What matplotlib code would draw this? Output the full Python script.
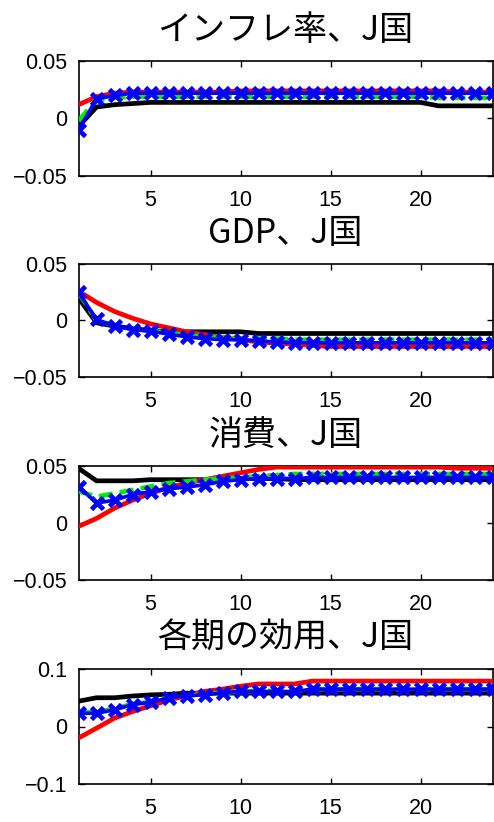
import matplotlib
matplotlib.use("Agg")
import matplotlib.pyplot as plt
import numpy as np

periods = list(range(1, 25))

titles = ["インフレ率、J国", "GDP、J国", "消費、J国", "各期の効用、J国"]

# inflation
infl_black = [-0.007, 0.010, 0.012, 0.013, 0.014, 0.014, 0.014, 0.014, 0.014, 0.014, 0.014, 0.014,
              0.014, 0.014, 0.014, 0.014, 0.014, 0.014, 0.014, 0.014, 0.011, 0.011, 0.011, 0.011]
infl_red = [0.012, 0.019, 0.022, 0.023, 0.023, 0.023, 0.023, 0.023, 0.023, 0.024, 0.024, 0.024,
            0.024, 0.024, 0.024, 0.024, 0.024, 0.024, 0.024, 0.024, 0.024, 0.023, 0.023, 0.023]
infl_green = [-0.002, 0.016, 0.018, 0.019, 0.019, 0.019, 0.019, 0.019, 0.019, 0.019, 0.019, 0.019,
              0.019, 0.019, 0.019, 0.019, 0.019, 0.019, 0.019, 0.019, 0.018, 0.018, 0.018, 0.018]
infl_blue = [-0.010, 0.017, 0.020, 0.022, 0.022, 0.022, 0.022, 0.022, 0.022, 0.022, 0.022, 0.022,
             0.022, 0.022, 0.022, 0.022, 0.022, 0.022, 0.022, 0.022, 0.022, 0.022, 0.022, 0.022]

# GDP
gdp_black = [0.020, -0.002, -0.005, -0.007, -0.009, -0.010, -0.010, -0.010, -0.010, -0.010, -0.0115, -0.0115,
             -0.0115, -0.0115, -0.0115, -0.0115, -0.0115, -0.0115, -0.0115, -0.0115, -0.0115, -0.0115, -0.0115, -0.0115]
gdp_red = [0.026, 0.016, 0.008, 0.002, -0.003, -0.0065, -0.010, -0.0125, -0.015, -0.017, -0.019, -0.020,
           -0.021, -0.022, -0.023, -0.023, -0.023, -0.023, -0.023, -0.023, -0.023, -0.023, -0.023, -0.023]
gdp_green = [0.025, 0.000, -0.004, -0.007, -0.009, -0.011, -0.013, -0.014, -0.015, -0.016, -0.016, -0.016,
             -0.017, -0.017, -0.017, -0.017, -0.017, -0.017, -0.017, -0.017, -0.017, -0.017, -0.017, -0.017]
gdp_blue = [0.025, 0.001, -0.005, -0.008, -0.0095, -0.012, -0.0145, -0.016, -0.017, -0.017, -0.018, -0.019,
            -0.0195, -0.0197, -0.0197, -0.0197, -0.0197, -0.0197, -0.0197, -0.0197, -0.0197, -0.0197, -0.0197, -0.0197]

# consumption
cons_black = [0.048, 0.037, 0.037, 0.037, 0.038, 0.038, 0.038, 0.038, 0.039, 0.039, 0.039, 0.039,
              0.038, 0.038, 0.038, 0.038, 0.038, 0.038, 0.038, 0.038, 0.038, 0.038, 0.038, 0.038]
cons_red = [-0.003, 0.004, 0.013, 0.020, 0.026, 0.031, 0.035, 0.038, 0.041, 0.044, 0.047, 0.049,
            0.049, 0.049, 0.049, 0.049, 0.049, 0.049, 0.049, 0.049, 0.049, 0.048, 0.048, 0.048]
cons_green = [0.028, 0.023, 0.026, 0.029, 0.032, 0.035, 0.0365, 0.038, 0.039, 0.040, 0.041, 0.042,
              0.043, 0.043, 0.043, 0.043, 0.043, 0.043, 0.043, 0.043, 0.043, 0.043, 0.043, 0.043]
cons_blue = [0.032, 0.0175, 0.020, 0.025, 0.0275, 0.030, 0.0315, 0.0335, 0.0365, 0.038, 0.039, 0.039,
             0.039, 0.040, 0.040, 0.040, 0.040, 0.040, 0.040, 0.040, 0.040, 0.040, 0.040, 0.040]

# utility
util_black = [0.044, 0.050, 0.050, 0.053, 0.055, 0.056, 0.058, 0.058, 0.058, 0.058, 0.058, 0.058,
              0.058, 0.058, 0.058, 0.058, 0.058, 0.058, 0.058, 0.058, 0.058, 0.058, 0.058, 0.058]
util_red = [-0.020, -0.003, 0.0145, 0.026, 0.036, 0.046, 0.0535, 0.061, 0.065, 0.070, 0.074, 0.074,
            0.074, 0.079, 0.079, 0.079, 0.079, 0.079, 0.079, 0.079, 0.079, 0.079, 0.079, 0.079]
util_green = [0.024, 0.025, 0.031, 0.039, 0.043, 0.050, 0.054, 0.056, 0.059, 0.061, 0.062, 0.062,
              0.062, 0.065, 0.065, 0.065, 0.065, 0.065, 0.065, 0.065, 0.065, 0.065, 0.065, 0.065]
util_blue = [0.023, 0.023, 0.029, 0.038, 0.042, 0.0497, 0.0535, 0.055, 0.0587, 0.061, 0.061, 0.061,
             0.061, 0.065, 0.065, 0.065, 0.065, 0.065, 0.065, 0.065, 0.065, 0.065, 0.065, 0.065]

panels = [
    (infl_black, infl_red, infl_green, infl_blue),
    (gdp_black, gdp_red, gdp_green, gdp_blue),
    (cons_black, cons_red, cons_green, cons_blue),
    (util_black, util_red, util_green, util_blue),
]
ylims = [(-0.05, 0.05), (-0.05, 0.05), (-0.05, 0.05), (-0.1, 0.1)]
yticks = [[-0.05, 0, 0.05], [-0.05, 0, 0.05], [-0.05, 0, 0.05], [-0.1, 0, 0.1]]
ytick_labels = [["\u22120.05", "0", "0.05"]] * 3 + [["\u22120.1", "0", "0.1"]]

# axes boxes in pixels: (top, bottom)
boxes = [(61, 176), (264, 377), (466, 580), (669, 784)]

W, H = 494, 822
fig = plt.figure(figsize=(W / 100, H / 100), dpi=100)
left, right = 78.5, 492.5

for i, (blk, red, grn, blu) in enumerate(panels):
    top, bot = boxes[i]
    ax = fig.add_axes([left / W, 1 - bot / H, (right - left) / W, (bot - top) / H])
    ax.plot(periods, blk, color="black", lw=3.4, zorder=2)
    ax.plot(periods, red, color="red", lw=3.4, zorder=3)
    ax.plot(periods, grn, color="#00ee00", lw=3.4, ls=(0, (3, 1.5)), zorder=4)
    ax.plot(periods, blu, color="blue", lw=2.6, marker="x", ms=8, mew=3.4, zorder=5)
    ax.set_xlim(1, 24)
    ax.set_ylim(*ylims[i])
    ax.set_xticks([5, 10, 15, 20])
    ax.set_yticks(yticks[i])
    ax.set_yticklabels(ytick_labels[i])
    ax.tick_params(direction="in", top=True, right=True, length=4, width=1,
                   labelsize=15.5, pad=10)
    ax.tick_params(axis="y", pad=8)
    for lab in ax.get_xticklabels() + ax.get_yticklabels():
        lab.set_fontfamily(["Liberation Sans", "DejaVu Sans"])
    for sp in ax.spines.values():
        sp.set_linewidth(1.2)
    ax.set_title(titles[i], fontsize=24.5, pad=15,
                 family=["Noto Sans CJK JP", "DejaVu Sans"])

fig.savefig("out.png", dpi=100)
